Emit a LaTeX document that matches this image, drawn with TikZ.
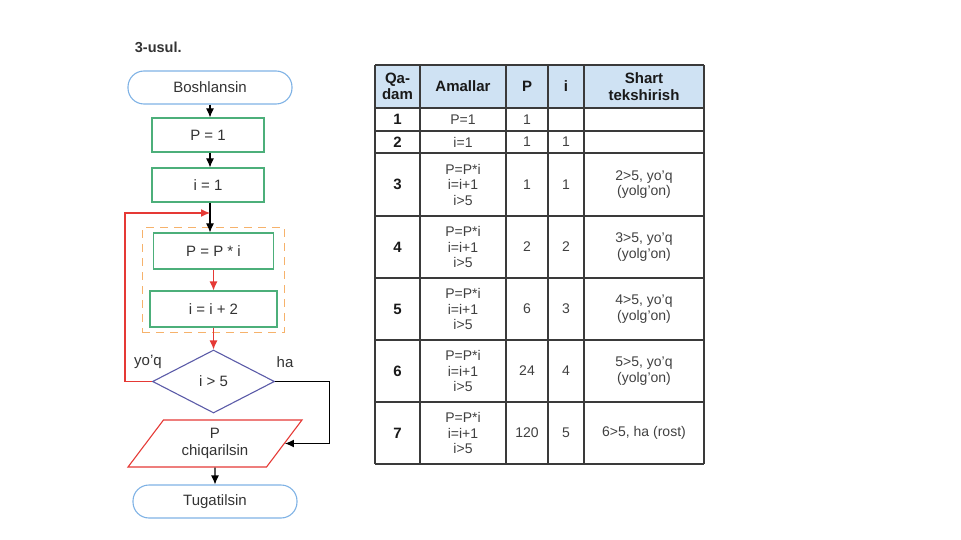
\documentclass[tikz,border=0pt]{standalone}
\usepackage{fontspec}
\setmainfont{Liberation Sans}
\usetikzlibrary{arrows.meta}
\usetikzlibrary{shapes.geometric}
\usetikzlibrary{fit}
\usetikzlibrary{positioning}

\definecolor{termblue}{HTML}{7FB2E5}
\definecolor{procgreen}{HTML}{4CAF7A}
\definecolor{loopred}{HTML}{E53935}
\definecolor{dashorange}{HTML}{F6B26B}
\definecolor{decpurple}{HTML}{5B5BA8}
\definecolor{headblue}{HTML}{CFE2F3}
\definecolor{gridgrey}{HTML}{3A3A3A}
\definecolor{textgrey}{HTML}{333333}

\begin{document}
\begin{tikzpicture}[
	x=1pt,y=-1pt,
	font=\fontsize{15}{17}\selectfont,
	text=textgrey,
	line width=1.1pt,
	term/.style={
		draw=termblue,rounded corners=16pt,
		minimum width=164pt,minimum height=33pt,
		inner sep=0pt,
	},
	proc/.style={
		draw=procgreen,
		minimum width=112pt,minimum height=34pt,
		inner sep=0pt,
	},
	dec/.style={
		draw=decpurple,diamond,
		minimum width=122pt,minimum height=63pt,
		inner sep=0pt,
	},
	io/.style={
		draw=loopred,trapezium,
		trapezium left angle=53,trapezium right angle=127,
		trapezium stretches=true,
		minimum width=174pt,minimum height=47pt,
		align=center,inner sep=0pt,
	},
	body/.style={
		draw=dashorange,dash pattern=on 8pt off 6pt,
		inner xsep=7pt,inner ysep=5pt,
	},
	arr/.style={draw=black,-{Latex[length=9pt,width=8pt]}},
	redarr/.style={draw=loopred,-{Latex[length=9pt,width=8pt]}},
	grid/.style={gridgrey,line width=1.4pt},
	cell/.style={font=\fontsize{14}{15.5}\selectfont,align=center,text=black!75},
	head/.style={font=\fontsize{15}{16.5}\selectfont\bfseries,align=center,text=black!90},
]
\useasboundingbox (0,0) rectangle (961,540);

% flowchart
\node[font=\fontsize{14.5}{16}\selectfont\bfseries,anchor=west] (title) at (131,47) {3-usul.};
\node[term] (start) at (210,87.5) {Boshlansin};
\node[proc] (p1) at (208,135) {P = 1};
\node[proc] (i1) at (208,185) {i = 1};
\node[proc,minimum width=120pt,minimum height=36pt] (pp) at (213.5,251) {P = P * i};
\node[proc,minimum width=127pt,minimum height=36pt] (ii) at (213.5,309) {i = i + 2};
\node[body,fit=(pp)(ii)] (loopbody) {};
\node[dec] (cond) at (213.5,381.5) {i > 5};
\node[io] (out) at (215,443.5) {P\\chiqarilsin};
\node[term] (stop) at (215,501.5) {Tugatilsin};
\node (no) at (148,362) {yo'q};
\node (yes) at (285,362) {ha};
\coordinate (loopin) at (210,213);

\draw[arr] (start.south -| 210,0) -- (p1.north -| 210,0);
\draw[arr] (p1.south -| 210,0) -- (i1.north -| 210,0);
\draw[arr] (i1.south -| 210,0) -- (pp.north -| 210,0);
\draw[redarr] (pp) -- (ii);
\draw[redarr] (ii) -- (cond);
\draw[redarr] (cond.west) -- ++(-27,0) |- (loopin);
\draw[arr] (cond.east) -- ++(54,0) |- (out.east);
\draw[arr] (out) -- (stop);

% table
\fill[headblue] (375,65) rectangle (704,108);
\foreach \y in {65,108,131,153,216,278,340,402,464}
	\draw[grid] (375,\y) -- (704,\y);
\foreach \x in {375,420,506,548,584,704}
	\draw[grid] (\x,65) -- (\x,464);

\node[head] (hq) at (397.5,86.5) {Qa-\\dam};
\node[head] (ha) at (463,86.5) {Amallar};
\node[head] (hp) at (527,86.5) {P};
\node[head] (hi) at (566,86.5) {i};
\node[head] (hs) at (644,86.5) {Shart\\tekshirish};

\node[head] (q1) at (397.5,119.5) {1};
\node[cell] (a1) at (463,119.5) {P=1};
\node[cell] (pv1) at (527,119.5) {1};
\node[head] (q2) at (397.5,142) {2};
\node[cell] (a2) at (463,142) {i=1};
\node[cell] (pv2) at (527,142) {1};
\node[cell] (iv2) at (566,142) {1};

\foreach \r/\y/\pv/\iv/\sv in {
	3/184.5/1/1/{2>5, yo'q\\(yolg'on)},
	4/247/2/2/{3>5, yo'q\\(yolg'on)},
	5/309/6/3/{4>5, yo'q\\(yolg'on)},
	6/371/24/4/{5>5, yo'q\\(yolg'on)},
	7/433/120/5/{6>5, ha (rost)}}{
	\node[head] (q\r) at (397.5,\y) {\r};
	\node[cell] (a\r) at (463,\y) {P=P*i\\i=i+1\\i>5};
	\node[cell] (pv\r) at (527,\y) {\pv};
	\node[cell] (iv\r) at (566,\y) {\iv};
	\node[cell] (s\r) at (644,\y) {\sv};
}
\end{tikzpicture}
\end{document}
